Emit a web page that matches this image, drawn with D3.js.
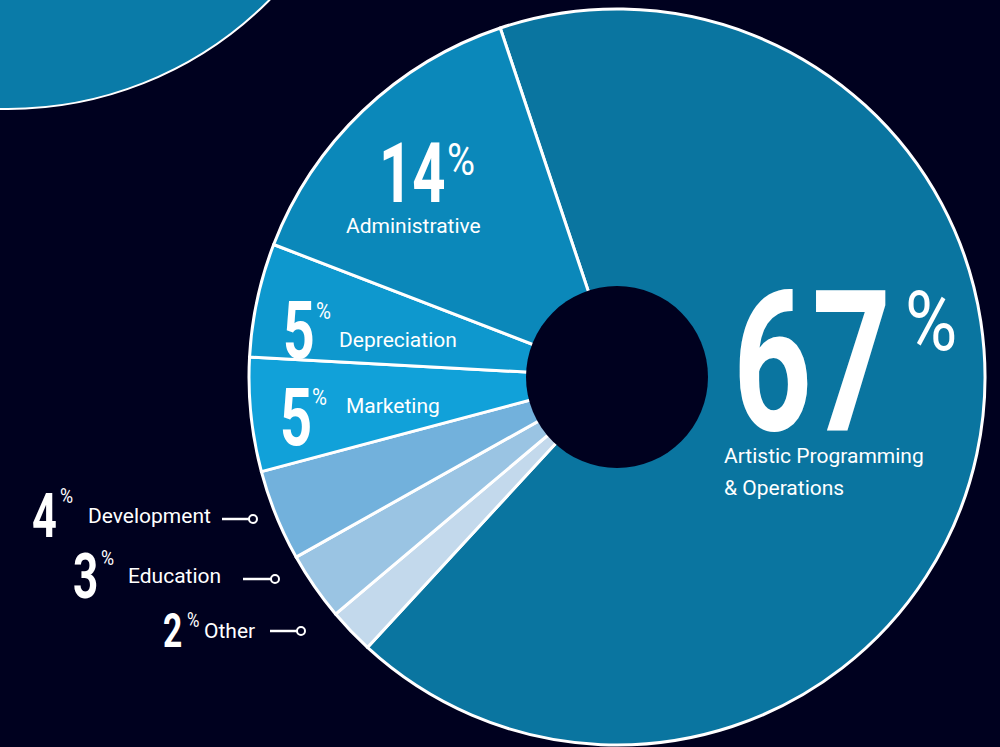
<!DOCTYPE html>
<meta charset="utf-8">
<style>
body { margin: 0; background: #00011f; }
svg { display: block; }
.name { font-family: Roboto, sans-serif; font-size: 21px; fill: #fff; }
.num { font-family: Roboto, sans-serif; font-weight: 700; fill: #fff; }
.pct { font-family: Roboto, sans-serif; font-weight: 400; fill: #fff; }
.lead { stroke: #fff; stroke-width: 2.5px; fill: none; }
.dot { stroke: #fff; stroke-width: 2px; fill: #00011f; }
</style>
<body>
<div id="chart"></div>
<script src="https://cdn.jsdelivr.net/npm/d3@7"></script>
<script>
// slices, clockwise from the top
var categories = ["Artistic Programming & Operations", "Other", "Education", "Development", "Marketing", "Depreciation", "Administrative"];
var shares = [67, 2, 3, 4, 5, 5, 14];
var sliceColors = ["#0a75a0", "#c3d9ec", "#9ac4e3", "#72b1dc", "#11a1d9", "#0e98ce", "#0b88ba"];

var width = 1000, height = 747,
    cx = 617, cy = 377,
    outerR = 368, holeR = 91;

var svg = d3.select("#chart").append("svg")
    .attr("width", width)
    .attr("height", height);

svg.append("rect").attr("width", width).attr("height", height).attr("fill", "#00011f");

// the other circle peeking in at top left
svg.append("circle")
    .attr("cx", 8).attr("cy", -259).attr("r", outerR)
    .attr("fill", "#0a7ba8")
    .attr("stroke", "#fff").attr("stroke-width", 2);

var start = -18.5 * Math.PI / 180;
var pie = d3.pie().sort(null).value(function(d) { return d; })
    .startAngle(start)
    .endAngle(start + 2 * Math.PI);

var arc = d3.arc().innerRadius(0).outerRadius(outerR);

var g = svg.append("g").attr("transform", "translate(" + cx + "," + cy + ")");

g.selectAll("path.slice")
    .data(pie(shares))
    .enter().append("path")
    .attr("class", "slice")
    .attr("d", arc)
    .attr("fill", function(d, i) { return sliceColors[i]; })
    .attr("stroke", "#fff")
    .attr("stroke-width", 3)
    .attr("stroke-linejoin", "round");

g.append("circle").attr("r", holeR).attr("fill", "#00011f");

// label layout (index into categories)
var labels = [
  {i: 0, nx: 733, ny: 430, ns: 197, px: 905, py: 350, ps: 84, tx: 724, ty: 463, lines: ["Artistic Programming", "& Operations"]},
  {i: 6, nx: 379, ny: 202, ns: 83, px: 447, py: 175, ps: 45, tx: 346, ty: 233, lines: ["Administrative"]},
  {i: 5, nx: 283, ny: 358, ns: 79, px: 316, py: 319, ps: 24, tx: 339, ty: 347, lines: ["Depreciation"]},
  {i: 4, nx: 280, ny: 445, ns: 80, px: 312, py: 405, ps: 24, tx: 346, ty: 413, lines: ["Marketing"]},
  {i: 3, nx: 32, ny: 537, ns: 62, px: 60, py: 503, ps: 21, tx: 88, ty: 523, lines: ["Development"], lead: [222, 249, 519]},
  {i: 2, nx: 73, ny: 598, ns: 63, px: 101, py: 565, ps: 21, tx: 128, ty: 583, lines: ["Education"], lead: [243, 271, 579]},
  {i: 1, nx: 163, ny: 647, ns: 48, px: 187, py: 627, ps: 20, tx: 204, ty: 638, lines: ["Other"], lead: [270, 297, 631]}
];

var lab = svg.selectAll("g.label").data(labels).enter().append("g").attr("class", "label");

lab.append("text")
    .attr("class", "num")
    .attr("transform", function(d) { return "translate(" + d.nx + "," + d.ny + ") scale(0.7,1)"; })
    .style("font-size", function(d) { return d.ns + "px"; })
    .text(function(d) { return shares[d.i]; });

lab.append("text")
    .attr("class", "pct")
    .attr("transform", function(d) { return "translate(" + d.px + "," + d.py + ") scale(0.85,1)"; })
    .style("font-size", function(d) { return d.ps + "px"; })
    .text("%");

lab.each(function(d) {
  var el = d3.select(this);
  d.lines.forEach(function(l, k) {
    el.append("text").attr("class", "name")
        .attr("x", d.tx).attr("y", d.ty + k * 32).text(l);
  });
  if (d.lead) {
    el.append("line").attr("class", "lead")
        .attr("x1", d.lead[0]).attr("x2", d.lead[1])
        .attr("y1", d.lead[2]).attr("y2", d.lead[2]);
    el.append("circle").attr("class", "dot")
        .attr("cx", d.lead[1] + 4).attr("cy", d.lead[2]).attr("r", 4);
  }
});
</script>
